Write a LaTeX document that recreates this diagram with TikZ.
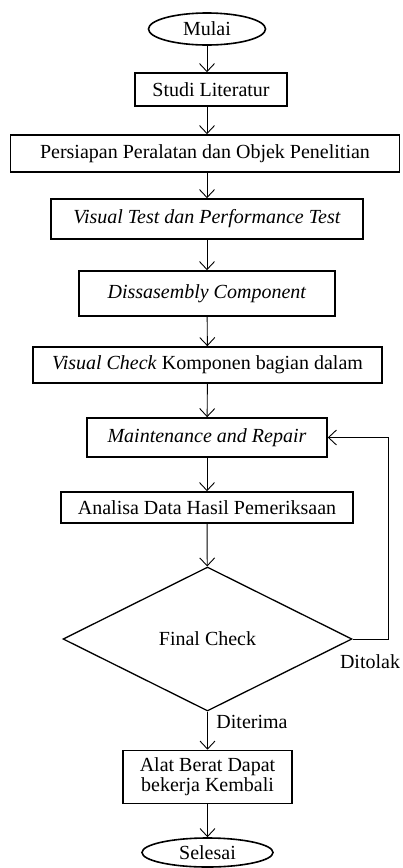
\documentclass[tikz,border=0pt]{standalone}
\usepackage{fontspec}
\setmainfont{Liberation Serif}
\usetikzlibrary{arrows.meta,shapes.geometric}
\begin{document}
\begin{tikzpicture}[x=1pt,y=-1pt,
  every node/.style={font=\fontsize{20}{22}\selectfont},
  box/.style={draw,line width=1.6pt,rectangle,inner sep=0pt},
  term/.style={draw,line width=1.6pt,ellipse,inner sep=0pt},
  dec/.style={draw,line width=1.3pt,diamond,inner sep=0pt},
  arr/.style={draw,line width=0.9pt,-{Straight Barb[length=8pt,width=15pt]}},
  lbl/.style={inner sep=0pt}]
\useasboundingbox (0,0) rectangle (402,868);
\node[term,minimum width=117pt,minimum height=32pt] (mulai) at (207,29) {Mulai};
\node[box,minimum width=152pt,minimum height=33pt] (studi) at (211,89.5) {Studi Literatur};
\node[box,minimum width=389pt,minimum height=37pt] (persiapan) at (205,153.5) {Persiapan Peralatan dan Objek Penelitian};
\node[box,minimum width=312pt,minimum height=40pt] (visual) at (207,219) {\textit{Visual Test dan Performance Test}};
\node[box,minimum width=256pt,minimum height=45pt] (dis) at (207,293.5) {\textit{Dissasembly Component}};
\node[box,minimum width=349pt,minimum height=36pt] (check) at (207.5,365) {\textit{Visual Check} Komponen bagian dalam};
\node[box,minimum width=240pt,minimum height=39pt] (maint) at (207,437.5) {\textit{Maintenance and Repair}};
\node[box,minimum width=292pt,minimum height=31pt] (analisa) at (207,507.5) {Analisa Data Hasil Pemeriksaan};
\node[dec,minimum width=289pt,minimum height=144pt] (final) at (207.5,639) {Final Check};
\node[box,minimum width=169pt,minimum height=53pt,align=center] (alat) at (207.5,777) {Alat Berat Dapat\\[-2pt]bekerja Kembali};
\node[term,minimum width=131pt,minimum height=29pt] (selesai) at (207.5,852.5) {Selesai};
\node[lbl] (ditolak) at (370,662) {Ditolak};
\node[lbl] (diterima) at (252,722) {Diterima};

\draw[arr] (mulai) -- (studi.north -| mulai.south);
\draw[arr] (studi.south -| mulai.south) -- (persiapan.north -| mulai.south);
\draw[arr] (persiapan.south -| mulai.south) -- (visual);
\draw[arr] (visual) -- (dis);
\draw[arr] (dis) -- (check);
\draw[arr] (check) -- (maint);
\draw[arr] (maint) -- (analisa);
\draw[arr] (analisa) -- (final);
\draw[arr] (final.south) -- (alat);
\draw[arr] (alat) -- (selesai);
\draw[arr] (final.east) -- ++(36,0) |- (maint.east);
\end{tikzpicture}
\end{document}
